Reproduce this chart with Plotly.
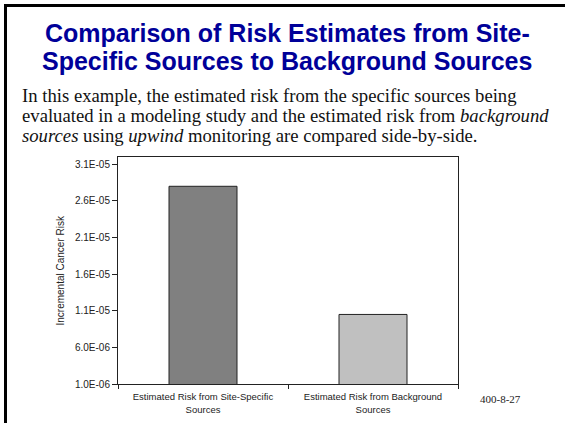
import plotly.graph_objects as go

# ---- data ----
categories = ["Estimated Risk from Site-Specific<br>Sources",
              "Estimated Risk from Background<br>Sources"]
risk_values = [2.80e-05, 1.05e-05]
bar_colors = ["#808080", "#C0C0C0"]
tick_values = [1.0e-06, 6.0e-06, 1.1e-05, 1.6e-05, 2.1e-05, 2.6e-05, 3.1e-05]
tick_labels = ["1.0E-06", "6.0E-06", "1.1E-05", "1.6E-05", "2.1E-05", "2.6E-05", "3.1E-05"]
y_range = [1.0e-06, 3.2e-05]

W, H = 565, 423
L, R, T, B = 118, 107, 157, 39
PW, PH = W - L - R, H - T - B


def px(x):
    return (x - L) / PW


def py(y):
    return (H - B - y) / PH


fig = go.Figure()
fig.add_trace(go.Bar(
    x=categories, y=risk_values,
    marker=dict(color=bar_colors, line=dict(color="#222222", width=1)),
    width=0.4, hoverinfo="skip",
))

fig.update_layout(
    width=W, height=H,
    margin=dict(l=L, r=R, t=T, b=B, pad=0, autoexpand=False),
    paper_bgcolor="white", plot_bgcolor="white",
    showlegend=False,
    font=dict(family="Arial, Liberation Sans, sans-serif", color="#222222", size=9.5),
)
fig.update_xaxes(
    showline=True, linecolor="#222222", linewidth=1, mirror=True,
    ticks="outside", ticklen=4, tickcolor="#222222", tickson="boundaries",
    ticklabelstandoff=4, automargin=False,
    showgrid=False, tickfont=dict(size=9.5, color="#222222"),
)
fig.update_yaxes(
    range=y_range, tickvals=tick_values, ticktext=tick_labels,
    showline=True, linecolor="#222222", linewidth=1, mirror=True,
    ticks="outside", ticklen=5, tickcolor="#222222", automargin=False,
    showgrid=False, zeroline=False, tickfont=dict(size=10, color="#222222"),
)

ann = []
title_lines = ["Comparison of Risk Estimates from Site-",
               "Specific Sources to Background Sources"]
for i, t in enumerate(title_lines):
    ann.append(dict(text="<b>%s</b>" % t, x=px(287), y=py(32.5 + 28.5 * i),
                    xref="paper", yref="paper", xanchor="center", yanchor="middle",
                    showarrow=False,
                    font=dict(family="Arial, Liberation Sans, sans-serif", size=25, color="#000099")))
body_lines = ["In this example, the estimated risk from the specific sources being",
              "evaluated in a modeling study and the estimated risk from <i>background</i>",
              "<i>sources</i> using <i>upwind</i> monitoring are compared side-by-side."]
for i, t in enumerate(body_lines):
    ann.append(dict(text=t, x=px(20), y=py(95.5 + 20.2 * i),
                    xref="paper", yref="paper", xanchor="left", yanchor="middle",
                    showarrow=False,
                    font=dict(family="Liberation Serif, Times New Roman, serif", size=18.7, color="#111111")))
ann.append(dict(text="Incremental Cancer Risk", x=px(60), y=py(270.5),
                xref="paper", yref="paper", xanchor="center", yanchor="middle",
                textangle=-90, showarrow=False,
                font=dict(size=10, color="#222222")))
ann.append(dict(text="400-8-27", x=px(500), y=py(399),
                xref="paper", yref="paper", xanchor="center", yanchor="middle",
                showarrow=False,
                font=dict(family="Liberation Serif, Times New Roman, serif", size=11, color="#222222")))
fig.update_layout(annotations=ann)

shapes = [
    dict(type="rect", xref="paper", yref="paper", x0=px(4), x1=px(W + 5), y0=py(4), y1=py(7),
         fillcolor="black", line=dict(width=0), layer="above"),
    dict(type="rect", xref="paper", yref="paper", x0=px(4), x1=px(7), y0=py(4), y1=py(H + 5),
         fillcolor="black", line=dict(width=0), layer="above"),
]
fig.update_layout(shapes=shapes)

fig.write_html("out.html", config={"displayModeBar": False},
               post_script="document.body.style.margin='0';")
